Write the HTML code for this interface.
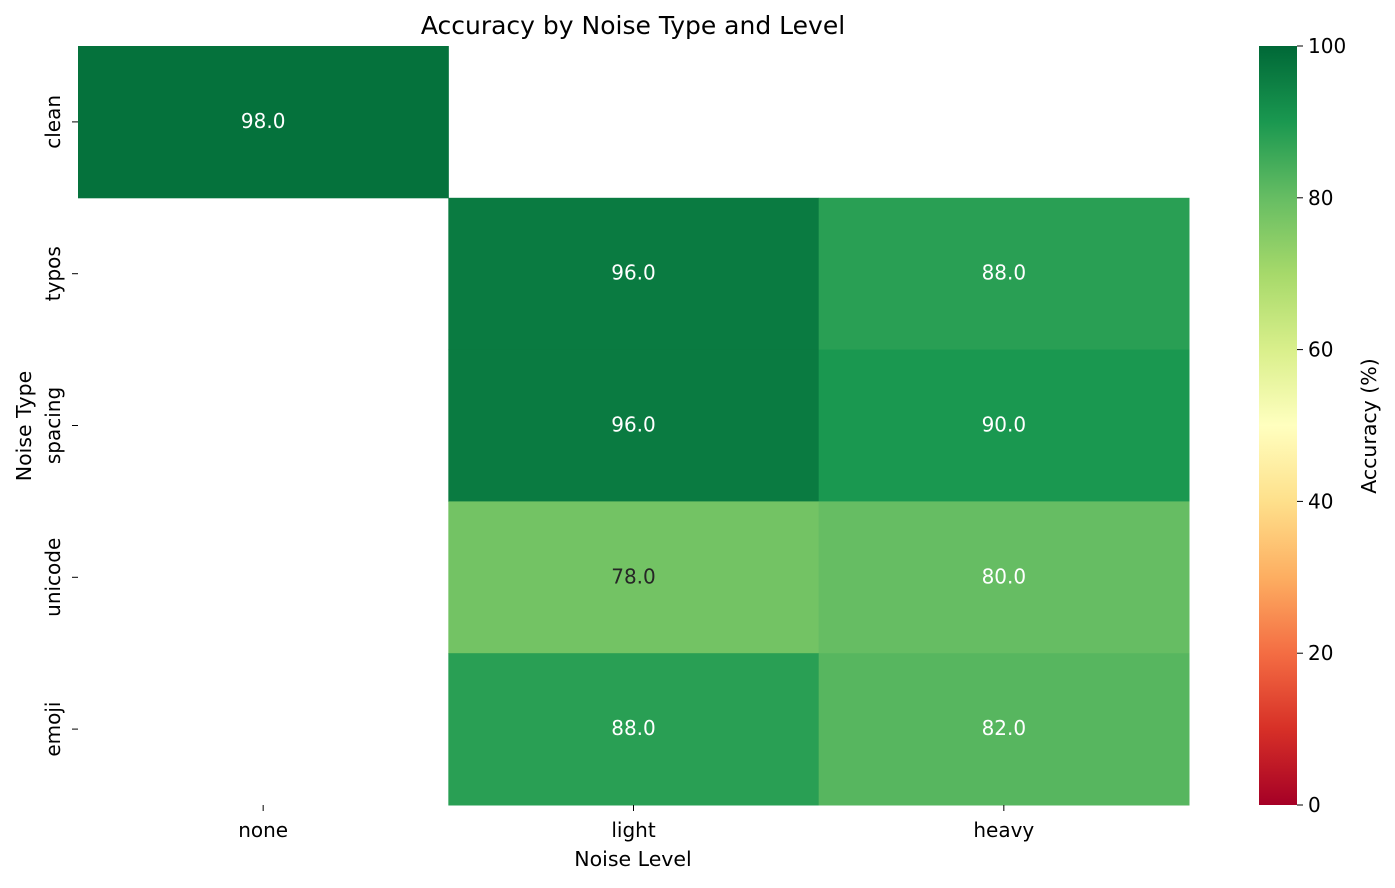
<!DOCTYPE html>
<html><head><meta charset="utf-8"><style>
body{margin:0;background:#fff;font-family:"DejaVu Sans",sans-serif}
</style></head><body>
<svg id="c" width="1395" height="884" xmlns="http://www.w3.org/2000/svg" font-family="DejaVu Sans, sans-serif">
<defs><linearGradient id="cb" x1="0" y1="1" x2="0" y2="0"></linearGradient></defs>
<text x="633" y="34" text-anchor="middle" font-size="25">Accuracy by Noise Type and Level</text>
<text x="633" y="866" text-anchor="middle" font-size="20.5">Noise Level</text>
<text transform="translate(31,426) rotate(-90)" text-anchor="middle" font-size="20.5">Noise Type</text>
<g id="cells"></g>
<g id="axes"></g>
<rect x="1259" y="46" width="38" height="759" fill="url(#cb)"/>
<text transform="translate(1376,426) rotate(-90)" text-anchor="middle" font-size="20.5">Accuracy (%)</text>
</svg>
<script>
const cols=["none","light","heavy"];
const rows=["clean","typos","spacing","unicode","emoji"];
const values=[[98,null,null],[null,96,88],[null,96,90],[null,78,80],[null,88,82]];
const cbTicks=[0,20,40,60,80,100];
const NS="http://www.w3.org/2000/svg";
const X0=78,X1=1189,Y0=46,Y1=805;
const cw=(X1-X0)/cols.length,rh=(Y1-Y0)/rows.length;
const stops=["#a50026","#d73027","#f46d43","#fdae61","#fee08b","#ffffbf","#d9ef8b","#a6d96a","#66bd63","#1a9850","#006837"];
function hex(h){return [1,3,5].map(i=>parseInt(h.substr(i,2),16));}
function cmap(v){let t=Math.max(0,Math.min(1,v/100))*(stops.length-1);let i=Math.min(Math.floor(t),stops.length-2),f=t-i;
const a=hex(stops[i]),b=hex(stops[i+1]);return a.map((x,k)=>Math.round(x+(b[k]-x)*f));}
function el(t,a,p){const e=document.createElementNS(NS,t);for(const k in a)e.setAttribute(k,a[k]);p.appendChild(e);return e;}
const cells=document.getElementById('cells'),axes=document.getElementById('axes');
rows.forEach((r,i)=>cols.forEach((c,j)=>{const v=values[i][j];if(v==null)return;
const rgb=cmap(v);
const rc=el('rect',{x:X0+j*cw,y:Y0+i*rh,width:cw+0.5,height:rh+0.5,fill:`rgb(${rgb})`},cells);


const lum=rgb.map(x=>{x/=255;return x<=0.03928?x/12.92:Math.pow((x+0.055)/1.055,2.4)});
const L=0.2126*lum[0]+0.7152*lum[1]+0.0722*lum[2];
const tx=el('text',{x:X0+(j+0.5)*cw,y:Y0+(i+0.5)*rh+6,'text-anchor':'middle','font-size':20,fill:L>0.408?'#262626':'#fff'},cells);
tx.textContent=v.toFixed(1);


}));
cols.forEach((c,j)=>{const x=X0+(j+0.5)*cw;
const l=el('line',{x1:x,x2:x,y1:Y1,y2:Y1+6,stroke:'#000','stroke-width':1},axes);


const t=el('text',{x:x,y:Y1+32,'text-anchor':'middle','font-size':20},axes);t.textContent=c;

});
rows.forEach((r,i)=>{const y=Y0+(i+0.5)*rh;
const l=el('line',{x1:X0-6,x2:X0,y1:y,y2:y,stroke:'#000','stroke-width':1},axes);


const t=el('text',{transform:`translate(60,${y}) rotate(-90)`,'text-anchor':'middle','font-size':20},axes);t.textContent=r;

});
const g=document.getElementById('cb');
stops.forEach((s,k)=>{const st=el('stop',{offset:(k/(stops.length-1)),'stop-color':s},g);

});
const svg=document.getElementById('c');
cbTicks.forEach(v=>{const y=Y1-(v/100)*(Y1-Y0);
const l=el('line',{x1:1297,x2:1303,y1:y,y2:y,stroke:'#000','stroke-width':1},svg);


const t=el('text',{x:1308,y:y+7,'font-size':20},svg);t.textContent=v;

});
</script>
</body></html>
